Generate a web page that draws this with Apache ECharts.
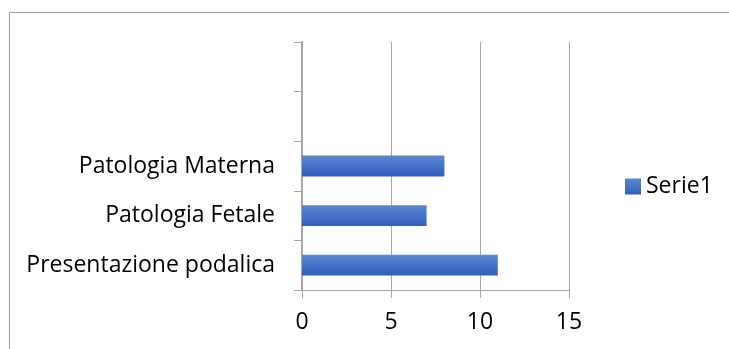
<!DOCTYPE html>
<html><head><meta charset="utf-8">
<script src="https://cdn.jsdelivr.net/npm/echarts@6/dist/echarts.min.js"></script>
<style>html,body{margin:0;padding:0;background:#fff}#c{width:729px;height:349px}</style>
</head><body><div id="c"></div>
<script>
const categories = ['Presentazione podalica', 'Patologia Fetale', 'Patologia Materna', '', ''];
const serie1 = [11, 7, 8, null, null];
const xTicks = [0, 5, 10, 15];
const seriesName = 'Serie1';

const chart = echarts.init(document.getElementById('c'), null, {renderer: 'canvas'});
const font = 'Open Sans';
const fs = 23;
chart.setOption({
  animation: false,
  graphic: [{
    type: 'rect', shape: {x: 9.5, y: 12.5, width: 800, height: 400},
    style: {fill: 'none', stroke: '#a0a0a0', lineWidth: 1}, silent: true
  }],
  grid: {left: 302, right: 160, top: 42, bottom: 59, containLabel: false},
  legend: {
    data: [seriesName], orient: 'vertical', left: 620, top: 170,
    itemWidth: 16, itemHeight: 16, itemGap: 0,
    icon: 'rect',
    textStyle: {fontFamily: font, fontSize: fs, color: '#000'}
  },
  xAxis: {
    type: 'value', min: xTicks[0], max: xTicks[xTicks.length - 1], interval: 5,
    axisLine: {show: true, lineStyle: {color: '#a6a6a6', width: 1}},
    axisTick: {show: true, length: 8, lineStyle: {color: '#a6a6a6'}},
    splitLine: {show: true, lineStyle: {color: '#a6a6a6', width: 1}},
    axisLabel: {fontFamily: font, fontSize: fs, color: '#000', margin: 21}
  },
  yAxis: {
    type: 'category', data: categories,
    axisLine: {show: true, lineStyle: {color: '#a6a6a6', width: 2}},
    axisTick: {show: true, length: 8, inside: false, alignWithLabel: false, lineStyle: {color: '#a6a6a6'}},
    axisLabel: {fontFamily: font, fontSize: fs, color: '#000', margin: 27}
  },
  series: [{
    name: seriesName, type: 'bar', data: serie1,
    barCategoryGap: '58%',
    itemStyle: {
      color: new echarts.graphic.LinearGradient(0, 0, 0, 1, [
        {offset: 0, color: '#5d85d2'},
        {offset: 1, color: '#2f5fbd'}
      ])
    }
  }]
});
</script></body></html>
